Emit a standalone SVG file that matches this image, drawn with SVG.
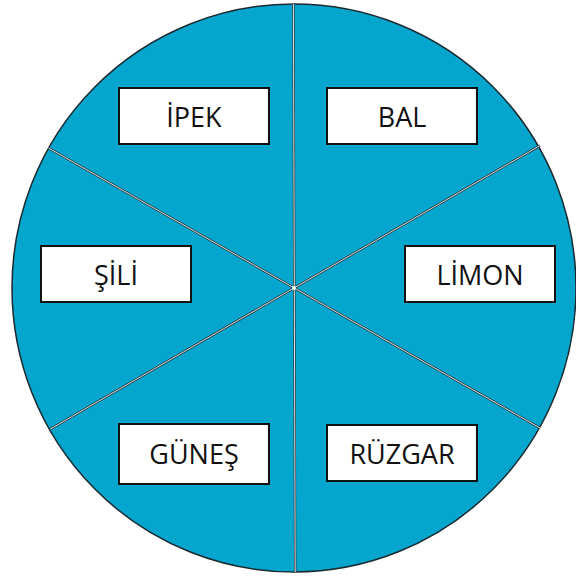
<svg xmlns="http://www.w3.org/2000/svg" width="576" height="578" viewBox="0 0 576 578">
<style>
.box{fill:#ffffff;stroke:#111111;stroke-width:2}
.lbl{font-family:"Open Sans","Noto Sans","DejaVu Sans",sans-serif;font-size:27px;fill:#111111;text-anchor:middle}
.ln{stroke:#2a3a40;stroke-width:2.4;fill:none}
.lh{stroke:#d8dde0;stroke-width:1;fill:none}
</style>
<rect width="576" height="578" fill="#ffffff"/>
<ellipse cx="294" cy="288" rx="282" ry="284" fill="#04A6CD" stroke="#1a2a30" stroke-width="1.5"/>
<g id="connectors">
<line class="ln" x1="293.4" y1="4" x2="295.2" y2="572"/>
<line class="ln" x1="48.5" y1="148" x2="540" y2="428"/>
<line class="ln" x1="50.4" y1="429" x2="540" y2="145.6"/>
<line class="lh" x1="293.4" y1="4" x2="295.2" y2="572"/>
<line class="lh" x1="48.5" y1="148" x2="540" y2="428"/>
<line class="lh" x1="50.4" y1="429" x2="540" y2="145.6"/>
<circle cx="294" cy="288" r="2" fill="#ffffff"/>
</g>
<g id="ipek"><rect class="box" x="119" y="88" width="150" height="56"/><text class="lbl" x="194" y="127">İPEK</text></g>
<g id="bal"><rect class="box" x="327" y="88" width="150" height="56"/><text class="lbl" x="402" y="127">BAL</text></g>
<g id="sili"><rect class="box" x="41" y="246" width="150" height="56"/><text class="lbl" x="116" y="285">ŞİLİ</text></g>
<g id="limon"><rect class="box" x="405" y="246" width="150" height="56"/><text class="lbl" x="480" y="285">LİMON</text></g>
<g id="gunes"><rect class="box" x="119" y="424" width="150" height="60"/><text class="lbl" x="194" y="464">GÜNEŞ</text></g>
<g id="ruzgar"><rect class="box" x="327" y="425" width="150" height="56"/><text class="lbl" x="402" y="464">RÜZGAR</text></g>
</svg>
